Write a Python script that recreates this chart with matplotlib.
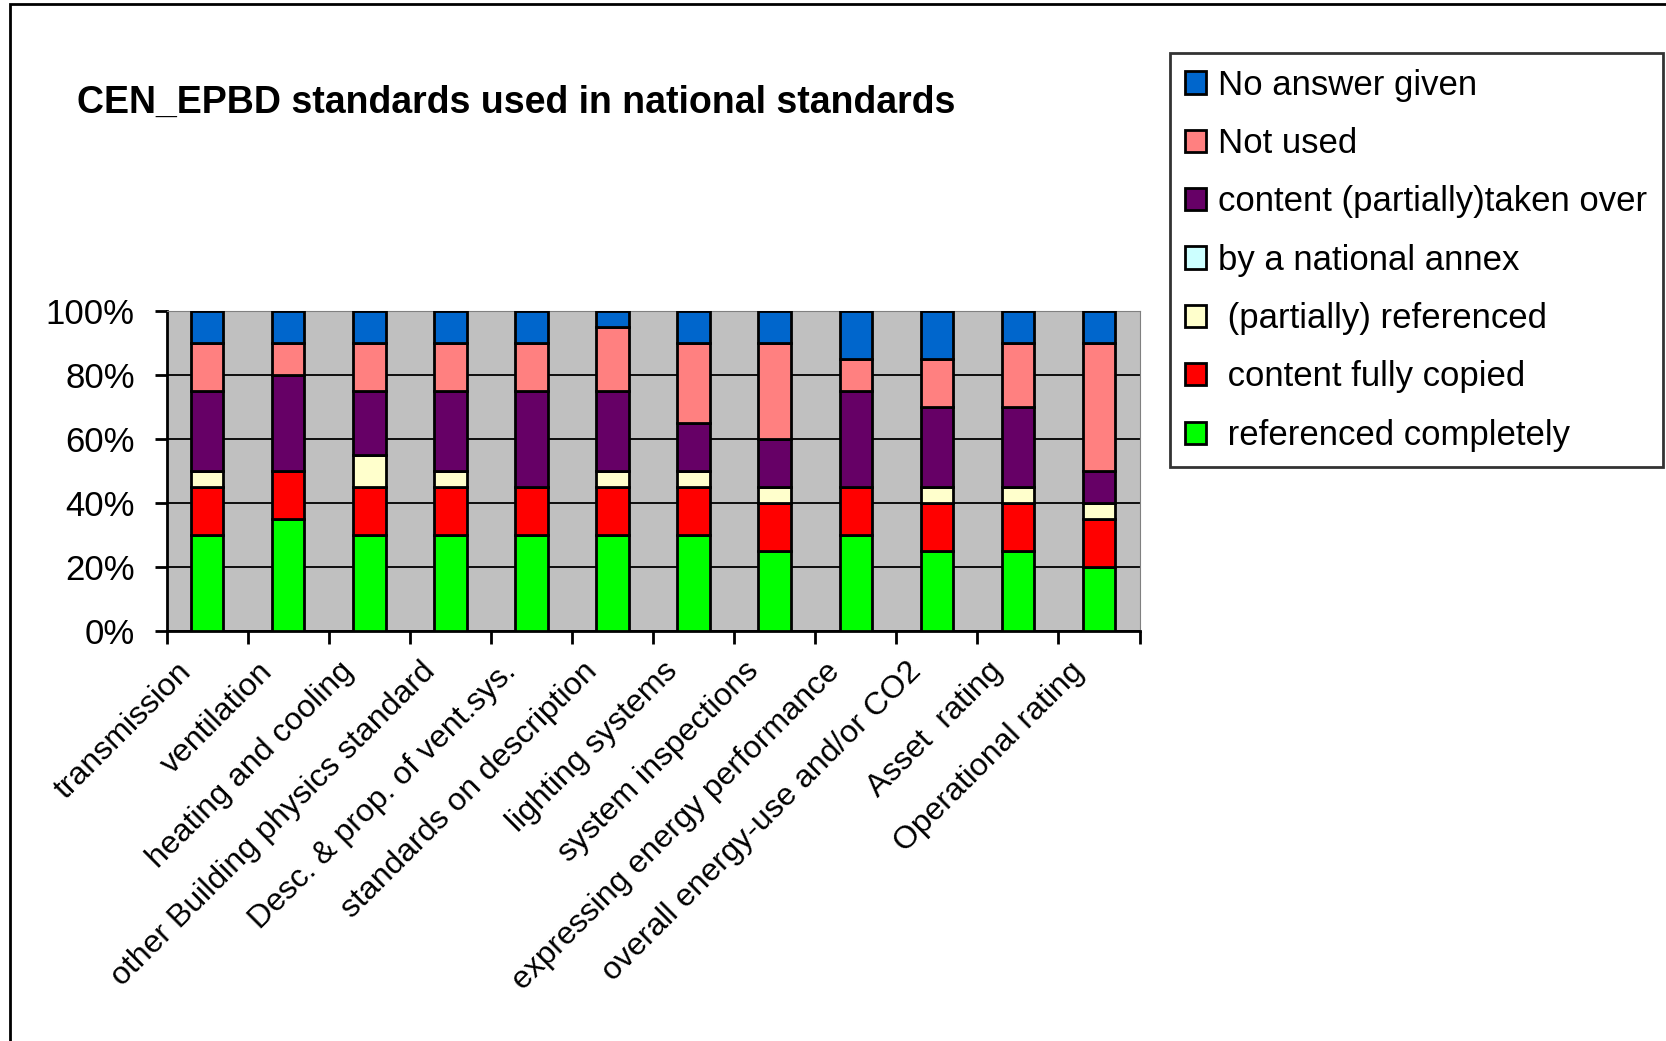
import numpy as np
import matplotlib
matplotlib.use("Agg")
import matplotlib.pyplot as plt
from matplotlib.patches import Rectangle
from matplotlib.transforms import ScaledTranslation
from matplotlib.ticker import PercentFormatter

plt.rcParams['font.family'] = ['Liberation Sans', 'DejaVu Sans']

categories = ['transmission', 'ventilation', 'heating and cooling',
              'other Building physics standard', 'Desc. & prop. of vent.sys.',
              'standards on description', 'lighting systems', 'system inspections',
              'expressing energy performance', 'overall energy-use and/or CO2',
              'Asset  rating', 'Operational rating']

# shares in %, bottom to top of each stack
referenced_completely = [30, 35, 30, 30, 30, 30, 30, 25, 30, 25, 25, 20]
content_fully_copied = [15, 15, 15, 15, 15, 15, 15, 15, 15, 15, 15, 15]
partially_referenced = [5, 0, 10, 5, 0, 5, 5, 5, 0, 5, 5, 5]
national_annex = [0, 0, 0, 0, 0, 0, 0, 0, 0, 0, 0, 0]
partially_taken_over = [25, 30, 20, 25, 30, 25, 15, 15, 30, 25, 25, 10]
not_used = [15, 10, 15, 15, 15, 20, 25, 30, 10, 15, 20, 40]
no_answer = [10, 10, 10, 10, 10, 5, 10, 10, 15, 15, 10, 10]

series = [
    (" referenced completely", referenced_completely, "#00FF00"),
    (" content fully copied", content_fully_copied, "#FF0000"),
    (" (partially) referenced", partially_referenced, "#FFFFCC"),
    ("by a national annex", national_annex, "#CCFFFF"),
    ("content (partially)taken over", partially_taken_over, "#660066"),
    ("Not used", not_used, "#FF8080"),
    ("No answer given", no_answer, "#0066CC"),
]

fig = plt.figure(figsize=(16.66, 10.41), dpi=100)
ax = fig.add_axes([0.100, 0.394, 0.584, 0.307])
ax.set_facecolor("#C0C0C0")

x = np.arange(len(categories))
bottom = np.zeros(len(categories))
handles = []
for name, vals, col in series:
    vals = np.array(vals) / 100.0
    b = ax.bar(x, vals, 0.4, bottom=bottom, color=col, edgecolor="black",
               linewidth=2, label=name, zorder=3)
    handles.append(b)
    bottom += vals

ax.set_xlim(-0.5, len(categories) - 0.5)
ax.set_ylim(0, 1)
ax.set_yticks(np.arange(0, 1.01, 0.2))
ax.yaxis.set_major_formatter(PercentFormatter(1.0, decimals=0))
ax.yaxis.grid(True, color="black", linewidth=1.3, zorder=1)
ax.set_axisbelow(True)

ax.spines['left'].set_linewidth(2)
ax.spines['bottom'].set_linewidth(2)
ax.spines['top'].set_color("#808080")
ax.spines['right'].set_color("#808080")

ax.tick_params(axis='y', direction='out', length=9, width=2, pad=14, labelsize=25)
ax.set_xticks(x)
ax.set_xticklabels(categories, rotation=45, ha='right', va='center',
                   rotation_mode='anchor', fontsize=23)
ax.tick_params(axis='x', which='major', length=0, pad=26)
ax.set_xticks(np.arange(-0.5, len(categories), 1.0), minor=True)
ax.tick_params(axis='x', which='minor', direction='out', length=9, width=2)
shift = ScaledTranslation(-0.2, 0, fig.dpi_scale_trans)
for lab in ax.get_xticklabels():
    lab.set_transform(lab.get_transform() + shift)

fig.text(0.046, 0.901, "CEN_EPBD standards used in national standards",
         fontsize=27, fontweight='bold', va='center', ha='left')

leg = fig.legend(handles[::-1], [s[0] for s in series][::-1],
                 loc='upper left', bbox_to_anchor=(0.702, 0.949),
                 bbox_transform=fig.transFigure, borderaxespad=0,
                 fontsize=25, frameon=True, fancybox=False,
                 edgecolor="black", handlelength=0.6, handleheight=0.6,
                 handletextpad=0.35, labelspacing=0.73, borderpad=0.45)
leg.get_frame().set_linewidth(2)

# outer chart border
fig.patches.append(Rectangle((0.006, -0.1), 1.2, 1.096, transform=fig.transFigure,
                             fill=False, edgecolor="black", linewidth=2))

fig.savefig("out.png", dpi=100)
